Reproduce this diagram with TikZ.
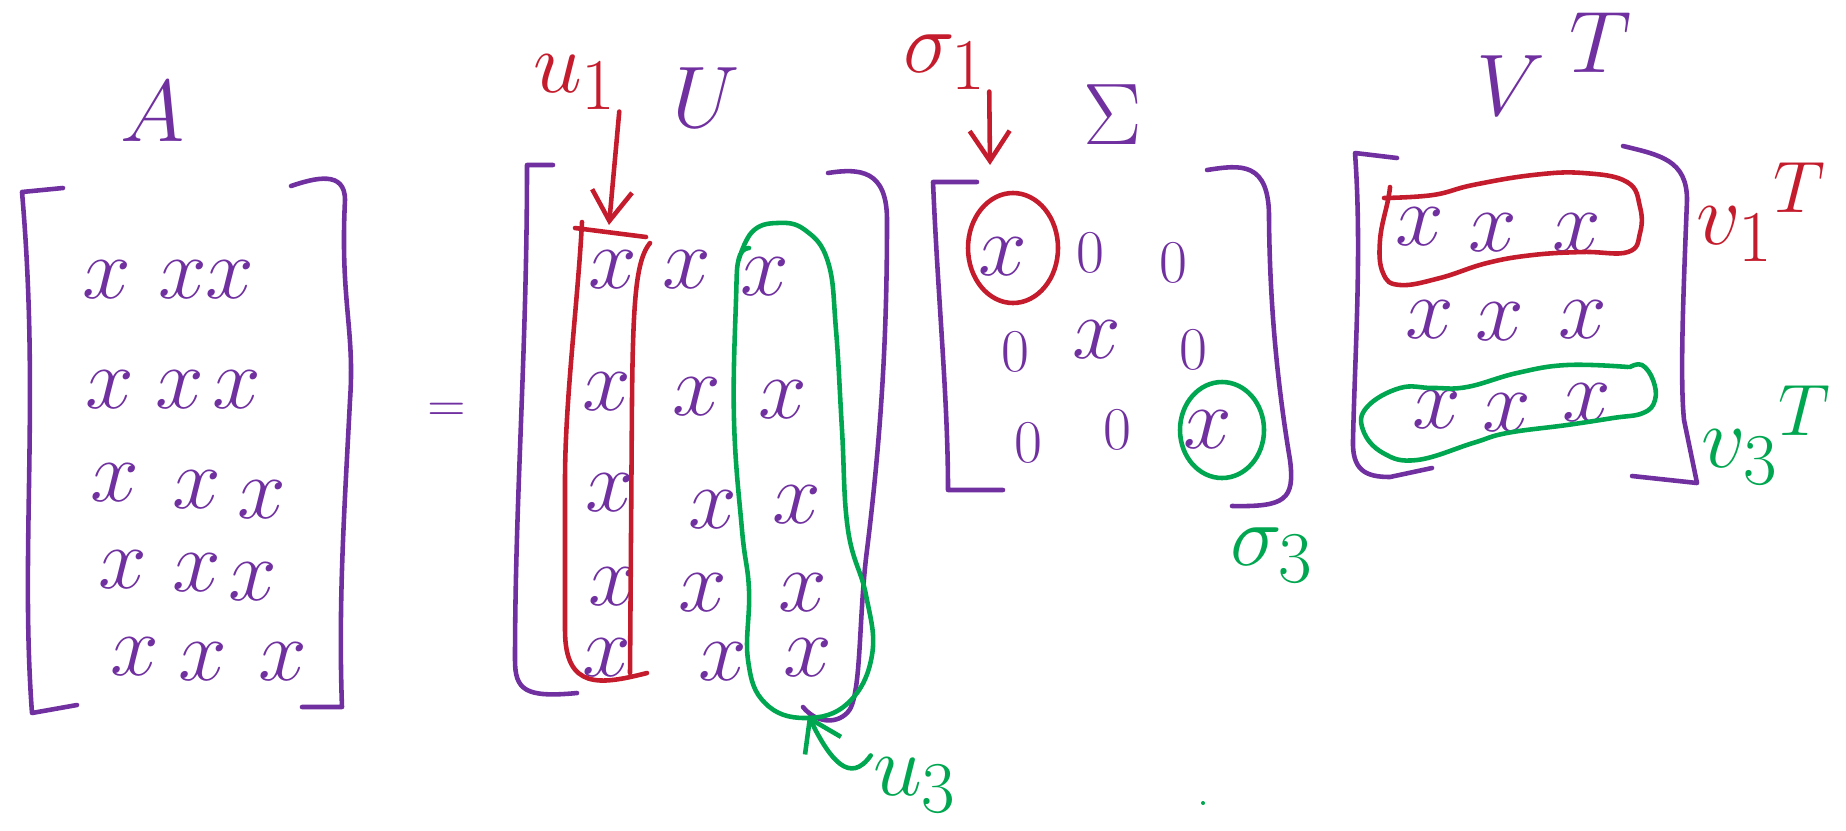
\documentclass[tikz,border=0pt]{standalone}
\usetikzlibrary{arrows.meta}

\definecolor{ink}{RGB}{112,48,160}
\definecolor{inkred}{RGB}{196,28,44}
\definecolor{inkgreen}{RGB}{0,166,80}

\begin{document}
\begin{tikzpicture}[
			x = 0.01cm, y = -0.01cm,
			line width = 1.3pt, line cap = round, line join = round,
			entry/.style = {text = ink, inner sep = 0pt, font = \fontsize{26}{26}\selectfont},
			zero/.style = {text = ink, inner sep = 0pt, font = \fontsize{18}{18}\selectfont},
			big/.style = {text = ink, inner sep = 0pt, font = \fontsize{38}{38}\selectfont},
			tag/.style = {inner sep = 0pt, font = \fontsize{30}{30}\selectfont},
			barb/.style = {-{Straight Barb[length=3mm,width=4mm]}},
			]

			\useasboundingbox (0,0) rectangle (1846,830);

			% A
			\node[big] (A) at (153,112) {$A$};
			\draw[ink] (63,188) -- (22,192) .. controls (40,400) and (20,550) .. (32,713) -- (77,705);
			\draw[ink] (291,186) .. controls (315,178) and (345,170) .. (345,200) .. controls (340,300) and (355,330) .. (350,400) .. controls (345,500) and (338,600) .. (342,707) -- (302,707);
			\foreach \x/\y [count=\i] in {107/280, 183/280, 230/280, 110/390, 180/390, 237/390, 115/483, 197/490, 262/500, 123/570, 197/573, 253/582, 135/657, 203/662, 283/662}
				\node[entry] (a\i) at (\x,\y) {$x$};

			\node[text = ink, font = \fontsize{15}{15}\selectfont] (eq) at (447,412) {$=$};

			% U
			\node[big] (U) at (706,98) {$U$};
			\draw[ink] (553,165) -- (527,165) .. controls (527,350) and (515,500) .. (515,660) .. controls (515,690) and (525,698) .. (577,693);
			\draw[ink] (828,173) .. controls (860,168) and (887,170) .. (887,220) .. controls (887,320) and (883,420) .. (867,550) .. controls (858,620) and (862,700) .. (847,713) .. controls (835,725) and (815,722) .. (803,707);
			\foreach \x/\y [count=\i] in {613/270, 687/270, 765/277, 607/392, 697/397, 783/400, 610/493, 713/510, 797/505, 613/587, 703/593, 803/593, 607/658, 723/662, 808/658}
				\node[entry] (u\i) at (\x,\y) {$x$};

			\draw[inkred] (575,228) -- (646,237);
			\draw[inkred] (582,222) .. controls (578,300) and (565,400) .. (565,480) -- (565,630) .. controls (565,690) and (600,685) .. (647,673);
			\draw[inkred] (650,243) .. controls (636,260) and (633,300) .. (632,400) -- (630,673);
			\draw[inkgreen] plot[smooth, tension=0.7] coordinates {(749,248) (739,258) (736,300) (734,420) (742,530) (749,590) (748,660) (765,703) (805,718) (848,703) (872,655) (866,595) (848,530) (842,430) (836,330) (828,262) (805,230) (777,223) (752,232) (738,262)};

			\node[tag, text = inkred] (ucol1) at (575,82) {$u_1$};
			\coordinate (ucol1tip) at (609,225);
			\draw[inkred, barb] (ucol1.south east) -- (ucol1tip);

			\node[tag, text = inkgreen] (ucol3) at (915,785) {$u_3$};
			\coordinate (ucol3tip) at (808,715);
			\draw[inkgreen, barb] (ucol3.north west) .. controls (850,785) and (830,760) .. (ucol3tip);

			% Sigma
			\node[big] (S) at (1113,115) {$\Sigma$};
			\draw[ink] (977,182) -- (933,182) .. controls (938,300) and (948,400) .. (948,490) -- (1003,490);
			\draw[ink] (1207,170) .. controls (1240,165) and (1270,160) .. (1269,220) .. controls (1270,320) and (1280,400) .. (1290,460) .. controls (1295,500) and (1285,507) .. (1232,506);
			\node[entry] (s11) at (1003,257) {$x$};
			\node[zero] (s12) at (1090,253) {$0$};
			\node[zero] (s13) at (1173,263) {$0$};
			\node[zero] (s21) at (1015,352) {$0$};
			\node[entry] (s22) at (1097,340) {$x$};
			\node[zero] (s23) at (1193,350) {$0$};
			\node[zero] (s31) at (1028,443) {$0$};
			\node[zero] (s32) at (1117,430) {$0$};
			\node[entry] (s33) at (1208,430) {$x$};
			\draw[inkred] (1013,248) ellipse [x radius = 45, y radius = 55];
			\draw[inkgreen] (1222,430) ellipse [x radius = 42, y radius = 48];

			\node[tag, text = inkred] (sig1) at (945,62) {$\sigma_1$};
			\coordinate (sig1tip) at (990,165);
			\draw[inkred, barb] (sig1.south east) -- (sig1tip);
			\node[tag, text = inkgreen] (sig3) at (1272,555) {$\sigma_3$};

			% V^T
			\node[big] (V) at (1555,64) {$V^{\;\raisebox{3pt}{$\scriptstyle T$}}$};
			\draw[ink] (1397,158) -- (1355,153) .. controls (1362,250) and (1355,350) .. (1353,440) .. controls (1352,470) and (1365,477) .. (1390,477) -- (1432,468);
			\draw[ink] (1623,146) .. controls (1660,155) and (1687,160) .. (1687,200) .. controls (1683,300) and (1680,380) .. (1684,420) -- (1697,483) -- (1632,476);
			\foreach \x/\y [count=\i] in {1420/227, 1493/233, 1577/233, 1430/320, 1500/322, 1583/320, 1437/410, 1507/413, 1587/403}
				\node[entry] (v\i) at (\x,\y) {$x$};

			\draw[inkred] plot[smooth, tension=0.7] coordinates {(1384,198) (1433,195) (1473,185) (1533,175) (1583,173) (1627,182) (1640,207) (1640,233) (1628,252) (1583,252) (1533,255) (1487,263) (1440,278) (1400,285) (1383,273) (1380,240) (1388,200) (1390,187)};
			\draw[inkgreen] plot[smooth, tension=0.7] coordinates {(1630,367) (1642,365) (1653,380) (1655,400) (1643,413) (1613,418) (1567,425) (1507,433) (1473,443) (1417,460) (1383,453) (1363,430) (1367,407) (1400,388) (1433,388) (1467,387) (1517,373) (1567,365) (1628,367)};

			\node[tag, text = inkred] (vrow1) at (1762,212) {${v_1}^{T}$};
			\node[tag, text = inkgreen] (vrow3) at (1767,435) {${v_3}^{T}$};

			\fill[inkgreen] (1203,803) circle [radius = 2];

		\end{tikzpicture}
\end{document}
